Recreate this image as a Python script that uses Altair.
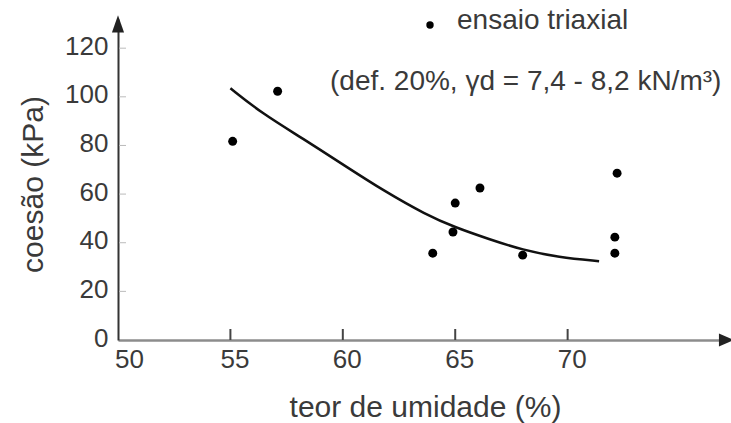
import altair as alt
import pandas as pd

# Triaxial test results: moisture content (%) vs cohesion (kPa)
teor = [55.1, 57.1, 64.0, 65.0, 64.9, 66.1, 68.0, 72.2, 72.1, 72.1]
coesao = [81.7, 102.3, 35.7, 56.3, 44.4, 62.5, 34.9, 68.6, 42.3, 35.7]

# Trend curve drawn through the test results
curva_x = [55.0, 56.4, 58.2, 60.2, 61.8, 63.7, 65.0, 66.5, 68.0, 69.6, 71.4]
curva_y = [103.5, 93.2, 83.0, 71.0, 61.5, 51.5, 46.3, 41.5, 37.0, 34.0, 32.4]

x_ticks = [55, 60, 65, 70]
y_ticks = [20, 40, 60, 80, 100, 120]

FONT = "Liberation Sans"
TXT = "#3a3a3a"

pts = pd.DataFrame({"teor": teor, "coesao": coesao})
curve = pd.DataFrame({"teor": curva_x, "coesao": curva_y})
xt = pd.DataFrame({"v": x_ticks})
yt = pd.DataFrame({"v": y_ticks})

xscale = alt.Scale(domain=[50, 77], nice=False, zero=False)
yscale = alt.Scale(domain=[0, 132], nice=False)

x_axis = alt.Axis(
    values=[50, 55, 60, 65, 70], ticks=False, grid=False,
    domainColor="#8c8c8c", domainWidth=2.5,
    labelFont=FONT, labelFontSize=26, labelColor=TXT, labelPadding=6,
    labelFlush=False,
    labelOffset={"condition": {"test": "datum.value === 50", "value": 11}, "value": 4},
    title="teor de umidade (%)", titleFont=FONT, titleFontSize=30,
    titleFontWeight="normal", titleColor=TXT, titleBaseline="alphabetic",
    titleAlign="center", titleX=307, titleY=76,
)
y_axis = alt.Axis(
    values=[0, 20, 40, 60, 80, 100, 120], ticks=False, grid=False,
    domainColor="#333333", domainWidth=2,
    labelFont=FONT, labelFontSize=26, labelColor=TXT, labelPadding=10,
    labelOffset=-2, labelFlush=False,
    title="coesão (kPa)", titleFont=FONT, titleFontSize=30,
    titleFontWeight="normal", titleColor=TXT, titleBaseline="alphabetic",
    titleAlign="center", titleAngle=270, titleX=-76, titleY=165,
)

base = alt.Chart(pts).mark_point(
    filled=True, color="black", size=80, opacity=1
).encode(
    x=alt.X("teor:Q", scale=xscale, axis=x_axis),
    y=alt.Y("coesao:Q", scale=yscale, axis=y_axis),
)

line = alt.Chart(curve).mark_line(
    color="#111111", strokeWidth=2.5, interpolate="basis"
).encode(x=alt.X("teor:Q", scale=xscale), y=alt.Y("coesao:Q", scale=yscale))

# inward ticks on both axes
xtick = alt.Chart(xt).mark_rule(color="#444444", strokeWidth=2).encode(
    x=alt.X("v:Q", scale=xscale), y=alt.value(321), y2=alt.value(310)
)
ytick = alt.Chart(yt).mark_rule(color="#bbbbbb", strokeWidth=1).encode(
    y=alt.Y("v:Q", scale=yscale), x=alt.value(1), x2=alt.value(8)
)

# arrow heads at the ends of the axes
arrows = pd.DataFrame({"teor": [50, 77], "coesao": [130, 0], "dir": ["up", "right"]})
arrow_up = alt.Chart(arrows[arrows.dir == "up"]).mark_point(
    shape="M0,-1L0.7,1L-0.7,1Z", filled=True, color="#222222", size=300, opacity=1
).encode(x=alt.X("teor:Q", scale=xscale), y=alt.Y("coesao:Q", scale=yscale))
arrow_right = alt.Chart(arrows[arrows.dir == "right"]).mark_point(
    shape="M1,0L-0.7,-0.75L-0.7,0.75Z", filled=True, color="#222222", size=300, opacity=1
).encode(x=alt.X("teor:Q", scale=xscale), y=alt.Y("coesao:Q", scale=yscale))

# legend / note
leg_dot = alt.Chart(pd.DataFrame({"a": [0]})).mark_point(
    filled=True, color="black", size=55, opacity=1
).encode(x=alt.value(312), y=alt.value(6))
leg_txt = alt.Chart(pd.DataFrame({"t": ["ensaio triaxial"]})).mark_text(
    font=FONT, fontSize=28, color=TXT, align="left", baseline="alphabetic"
).encode(x=alt.value(339), y=alt.value(10), text="t:N")
note_txt = alt.Chart(pd.DataFrame({"t": ["(def. 20%, γd = 7,4 - 8,2 kN/m³)"]})).mark_text(
    font=FONT, fontSize=28, color=TXT, align="left", baseline="alphabetic"
).encode(x=alt.value(212), y=alt.value(71), text="t:N")

chart = alt.layer(
    ytick, xtick, line, base, arrow_up, arrow_right, leg_dot, leg_txt, note_txt
).properties(
    width=607, height=321,
    padding={"left": 118, "top": 19, "right": 6, "bottom": 83},
    autosize=alt.AutoSizeParams(type="none"),
    background="white",
).configure_view(stroke=None)

chart.save("out.html", embed_options={"renderer": "svg", "actions": False})
